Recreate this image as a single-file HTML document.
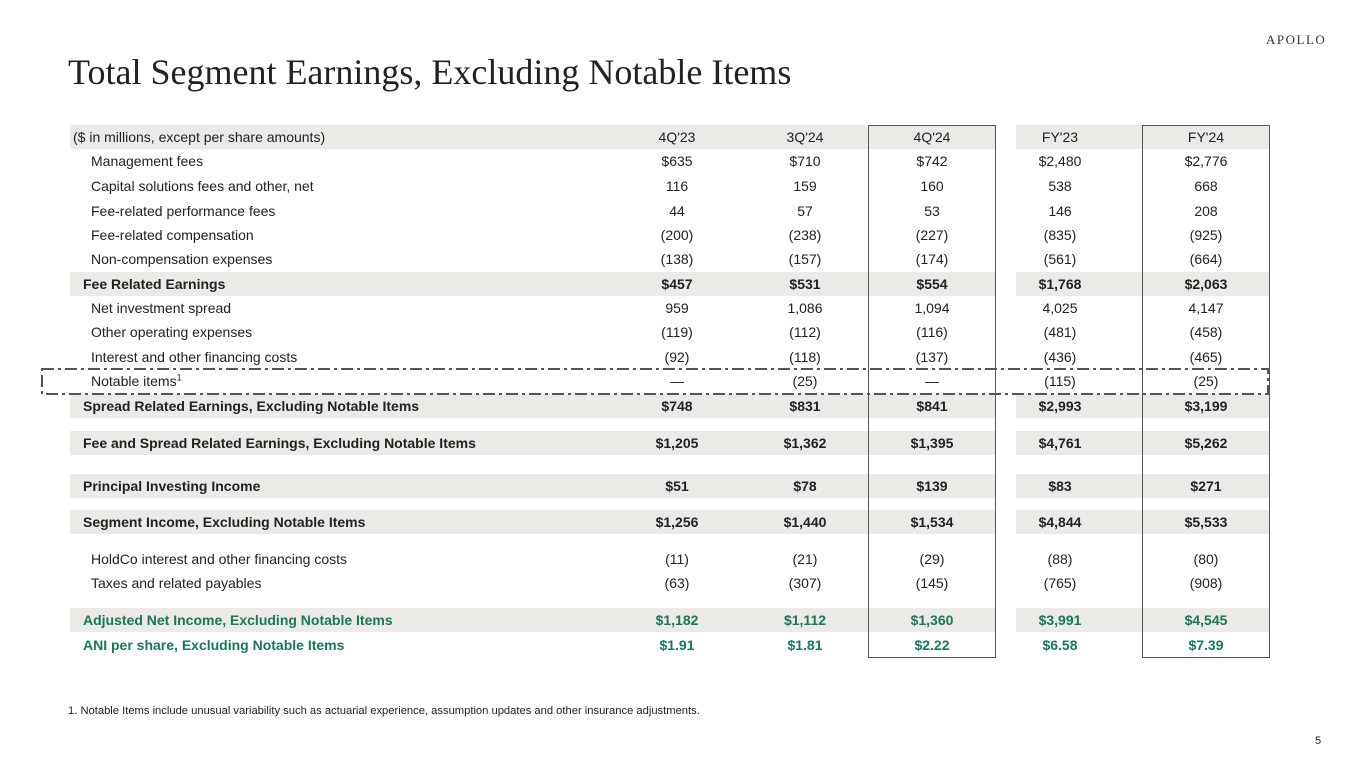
<!DOCTYPE html>
<html><head><meta charset="utf-8"><style>
body{margin:0;width:1365px;height:768px;background:#fff;position:relative;overflow:hidden;font-family:"Liberation Sans",Arial,sans-serif;color:#222}
.t{position:absolute;left:68px;top:51px;font-family:"Liberation Serif",serif;font-size:36px;color:#222;white-space:nowrap}
.logo{position:absolute;left:1266px;top:32px;font-family:"Liberation Serif",serif;font-size:13px;letter-spacing:1.5px;color:#333}
.r{position:absolute;left:0;width:1365px;height:24px;font-size:14px;line-height:24px}
.r span{position:absolute;top:0;width:120px;text-align:center;white-space:nowrap}
.r .l{text-align:left;width:500px}
.g1,.g2{position:absolute;top:0;height:24px;background:#ebeae6}
.g1{left:70px;width:925px}.g2{left:1016px;width:253px}
.b{font-weight:bold}.gr{color:#17785c}
.box{position:absolute;border:1px solid #555;top:125px;height:531px;width:126px}
.fn{position:absolute;left:68px;top:705px;font-size:11.2px}
.pn{position:absolute;left:1315px;top:735px;font-size:11px}
</style></head><body>
<div class="t">Total Segment Earnings, Excluding Notable Items</div>
<div class="logo">APOLLO</div>

<div class="r" style="top:125px"><div class="g1"></div><div class="g2"></div><span class="l" style="left:73px">($ in millions, except per share amounts)</span><span style="left:617px">4Q'23</span><span style="left:745px">3Q'24</span><span style="left:872px">4Q'24</span><span style="left:1000px">FY'23</span><span style="left:1146px">FY'24</span></div>
<div class="r" style="top:149px"><span class="l" style="left:91px">Management fees</span><span style="left:617px">$635</span><span style="left:745px">$710</span><span style="left:872px">$742</span><span style="left:1000px">$2,480</span><span style="left:1146px">$2,776</span></div>
<div class="r" style="top:174px"><span class="l" style="left:91px">Capital solutions fees and other, net</span><span style="left:617px">116</span><span style="left:745px">159</span><span style="left:872px">160</span><span style="left:1000px">538</span><span style="left:1146px">668</span></div>
<div class="r" style="top:199px"><span class="l" style="left:91px">Fee-related performance fees</span><span style="left:617px">44</span><span style="left:745px">57</span><span style="left:872px">53</span><span style="left:1000px">146</span><span style="left:1146px">208</span></div>
<div class="r" style="top:223px"><span class="l" style="left:91px">Fee-related compensation</span><span style="left:617px">(200)</span><span style="left:745px">(238)</span><span style="left:872px">(227)</span><span style="left:1000px">(835)</span><span style="left:1146px">(925)</span></div>
<div class="r" style="top:247px"><span class="l" style="left:91px">Non-compensation expenses</span><span style="left:617px">(138)</span><span style="left:745px">(157)</span><span style="left:872px">(174)</span><span style="left:1000px">(561)</span><span style="left:1146px">(664)</span></div>
<div class="r b" style="top:272px"><div class="g1"></div><div class="g2"></div><span class="l" style="left:83px">Fee Related Earnings</span><span style="left:617px">$457</span><span style="left:745px">$531</span><span style="left:872px">$554</span><span style="left:1000px">$1,768</span><span style="left:1146px">$2,063</span></div>
<div class="r" style="top:296px"><span class="l" style="left:91px">Net investment spread</span><span style="left:617px">959</span><span style="left:745px">1,086</span><span style="left:872px">1,094</span><span style="left:1000px">4,025</span><span style="left:1146px">4,147</span></div>
<div class="r" style="top:320px"><span class="l" style="left:91px">Other operating expenses</span><span style="left:617px">(119)</span><span style="left:745px">(112)</span><span style="left:872px">(116)</span><span style="left:1000px">(481)</span><span style="left:1146px">(458)</span></div>
<div class="r" style="top:345px"><span class="l" style="left:91px">Interest and other financing costs</span><span style="left:617px">(92)</span><span style="left:745px">(118)</span><span style="left:872px">(137)</span><span style="left:1000px">(436)</span><span style="left:1146px">(465)</span></div>
<div class="r" style="top:369px"><span class="l" style="left:91px">Notable items<sup style="font-size:9px;line-height:0">1</sup></span><span style="left:617px">—</span><span style="left:745px">(25)</span><span style="left:872px">—</span><span style="left:1000px">(115)</span><span style="left:1146px">(25)</span></div>
<div class="r b" style="top:394px"><div class="g1"></div><div class="g2"></div><span class="l" style="left:83px">Spread Related Earnings, Excluding Notable Items</span><span style="left:617px">$748</span><span style="left:745px">$831</span><span style="left:872px">$841</span><span style="left:1000px">$2,993</span><span style="left:1146px">$3,199</span></div>
<div class="r b" style="top:431px"><div class="g1"></div><div class="g2"></div><span class="l" style="left:83px">Fee and Spread Related Earnings, Excluding Notable Items</span><span style="left:617px">$1,205</span><span style="left:745px">$1,362</span><span style="left:872px">$1,395</span><span style="left:1000px">$4,761</span><span style="left:1146px">$5,262</span></div>
<div class="r b" style="top:474px"><div class="g1"></div><div class="g2"></div><span class="l" style="left:83px">Principal Investing Income</span><span style="left:617px">$51</span><span style="left:745px">$78</span><span style="left:872px">$139</span><span style="left:1000px">$83</span><span style="left:1146px">$271</span></div>
<div class="r b" style="top:510px"><div class="g1"></div><div class="g2"></div><span class="l" style="left:83px">Segment Income, Excluding Notable Items</span><span style="left:617px">$1,256</span><span style="left:745px">$1,440</span><span style="left:872px">$1,534</span><span style="left:1000px">$4,844</span><span style="left:1146px">$5,533</span></div>
<div class="r" style="top:547px"><span class="l" style="left:91px">HoldCo interest and other financing costs</span><span style="left:617px">(11)</span><span style="left:745px">(21)</span><span style="left:872px">(29)</span><span style="left:1000px">(88)</span><span style="left:1146px">(80)</span></div>
<div class="r" style="top:571px"><span class="l" style="left:91px">Taxes and related payables</span><span style="left:617px">(63)</span><span style="left:745px">(307)</span><span style="left:872px">(145)</span><span style="left:1000px">(765)</span><span style="left:1146px">(908)</span></div>
<div class="r b gr" style="top:608px"><div class="g1"></div><div class="g2"></div><span class="l" style="left:83px">Adjusted Net Income, Excluding Notable Items</span><span style="left:617px">$1,182</span><span style="left:745px">$1,112</span><span style="left:872px">$1,360</span><span style="left:1000px">$3,991</span><span style="left:1146px">$4,545</span></div>
<div class="r b gr" style="top:633px"><span class="l" style="left:83px">ANI per share, Excluding Notable Items</span><span style="left:617px">$1.91</span><span style="left:745px">$1.81</span><span style="left:872px">$2.22</span><span style="left:1000px">$6.58</span><span style="left:1146px">$7.39</span></div>

<div class="box" style="left:868px"></div>
<div class="box" style="left:1142px"></div>
<svg style="position:absolute;left:0;top:0" width="1365" height="768"><rect x="42" y="369" width="1226" height="25" fill="none" stroke="#555" stroke-width="2" stroke-dasharray="12,4,3,4"/></svg>

<div class="fn">1. Notable Items include unusual variability such as actuarial experience, assumption updates and other insurance adjustments.</div>
<div class="pn">5</div>
</body></html>
